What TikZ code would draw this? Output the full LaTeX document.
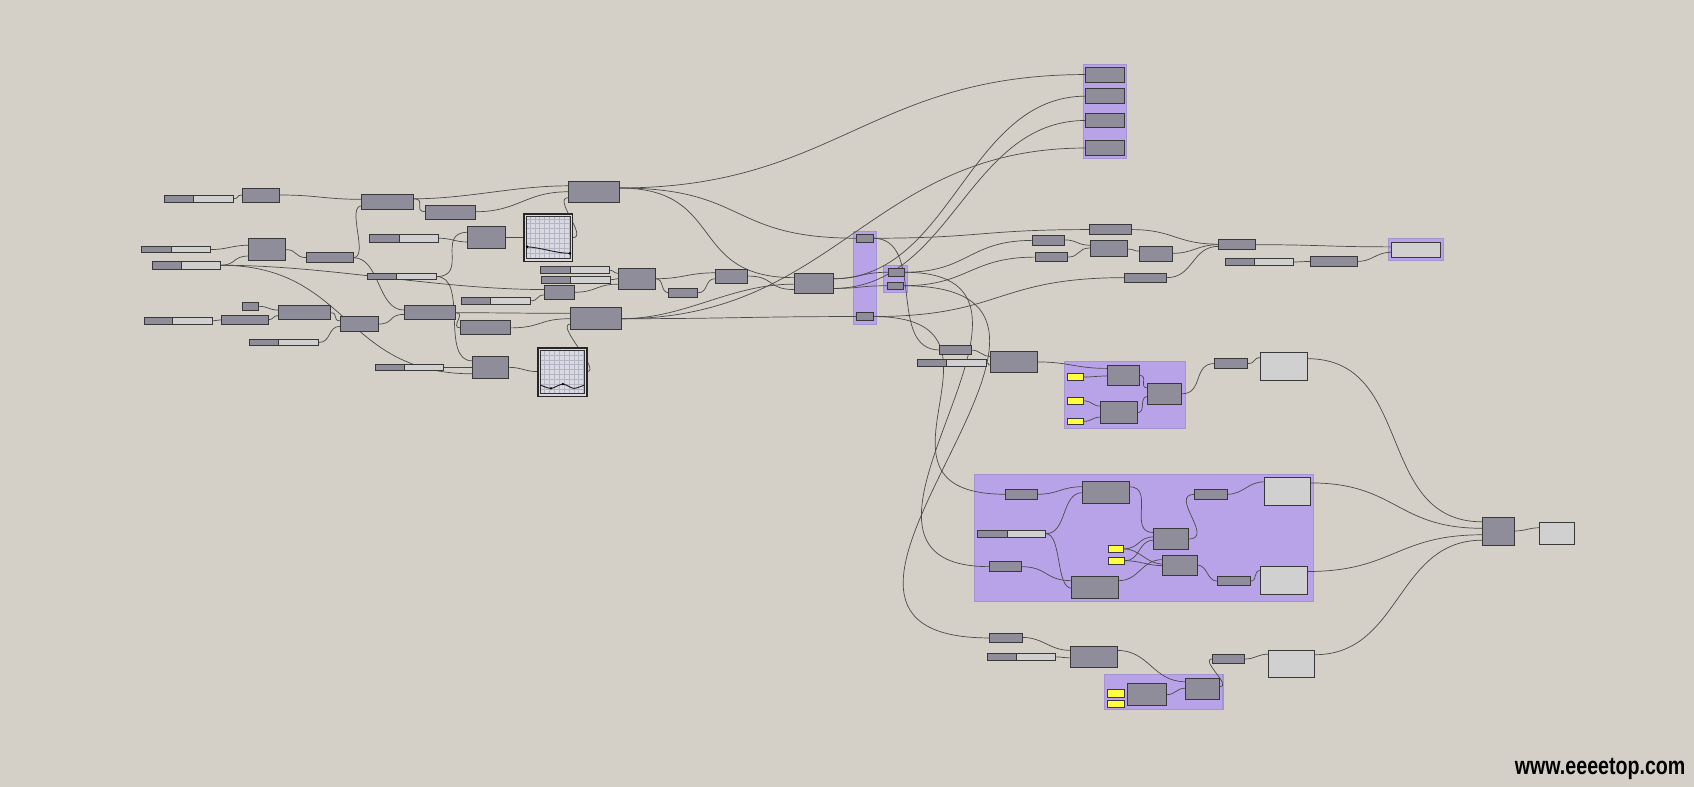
\documentclass[tikz,border=0pt]{standalone}
\usepackage{fontspec}
\usepackage{graphicx}
\newfontfamily\wmfont{Liberation Sans}
\usetikzlibrary{calc}
\definecolor{bgc}{HTML}{D4D0C8}
\definecolor{boxc}{HTML}{8E8D99}
\definecolor{edgec}{HTML}{383838}
\definecolor{lightc}{HTML}{D0D0D0}
\definecolor{grpc}{HTML}{B8A3E8}
\definecolor{grpe}{HTML}{A394CF}
\definecolor{yelc}{HTML}{FFFF40}
\definecolor{wirec}{HTML}{4A4A4A}
\definecolor{gridc}{HTML}{B4B4C4}
\definecolor{graphbg}{HTML}{D9D9E1}
\pgfdeclarelayer{grplayer}
\pgfdeclarelayer{wirelayer}
\pgfsetlayers{grplayer,wirelayer,main}
\tikzset{
 comp/.style={draw=edgec, fill=boxc, line width=0.8pt, inner sep=0pt, outer sep=0pt},
 panelbox/.style={draw=edgec, fill=lightc, line width=0.8pt, inner sep=0pt, outer sep=0pt},
 yelbox/.style={draw=edgec, fill=yelc, line width=0.6pt, inner sep=0pt, outer sep=0pt},
 slidernode/.style={draw=edgec, fill=lightc, line width=0.7pt, inner sep=0pt, outer sep=0pt},
 grpbox/.style={draw=grpe, fill=grpc, line width=1pt, inner sep=0pt, outer sep=0pt},
 graphbox/.style={draw=black!85, fill=graphbg, line width=1.6pt, inner sep=0pt, outer sep=0pt},
 wire/.style={draw=wirec, line width=0.65pt},
 wmtext/.style={anchor=base west, inner sep=0pt, font=\wmfont\bfseries\fontsize{23}{23}\selectfont},
}
\newcommand\bx[6][comp]{\node[#1, anchor=north west, minimum width={(#5-#3)*1pt}, minimum height={(#6-#4)*1pt}] (#2) at (#3,#4) {};}
\newcommand\sld[6]{\bx[slidernode]{#1}{#2}{#3}{#4}{#5}%
 \fill[boxc] (#2,#3) rectangle (#6,#5);
 \draw[edgec,line width=0.7pt] (#2,#3) rectangle (#4,#5);
 \draw[edgec,line width=0.7pt] (#6,#3) -- (#6,#5);}
\newcommand\graphnode[5]{\node[graphbox, anchor=north west, minimum width={(#4-#2)*1pt}, minimum height={(#5-#3)*1pt}] (#1) at (#2,#3) {};
 \draw[gridc, line width=0.3pt, step=4.5pt] ($(#1.south west)+(3,-3)$) grid ($(#1.north east)+(-3,3)$);
 \draw[black!80, line width=0.6pt] ($(#1.north west)+(2.5,2.5)$) rectangle ($(#1.south east)+(-2.5,-2.5)$);}
\newcommand\wirelink[5]{\draw[wire] (#1.east |- 0,#2) .. controls +(#5,0) and +(-#5,0) .. (#3.west |- 0,#4);}
\begin{document}
\begin{tikzpicture}[x=1pt,y=-1pt]
\useasboundingbox (0,0) rectangle (1568,728);
\begin{pgfonlayer}{grplayer}
\fill[bgc] (0,0) rectangle (1568,728);
\bx[grpbox]{gU}{790}{214}{811}{300}
\bx[grpbox]{gV}{818}{246}{840}{271}
\bx[grpbox]{gW}{1003}{60}{1043}{147}
\bx[grpbox]{gAF}{1285}{221}{1336}{241}
\bx[grpbox]{gAH}{985}{335}{1097}{397}
\bx[grpbox]{gAN}{902}{439}{1216}{557}
\bx[grpbox]{gBC}{1022}{624}{1132}{657}
\end{pgfonlayer}
% left cluster
\sld{s1}{152}{181}{216}{187}{179}
\sld{s2}{131}{228}{195}{234}{159}
\sld{s3}{141}{242}{204}{249}{168}
\sld{s4}{342}{217}{406}{224}{370}
\sld{s5}{340}{253}{404}{259}{367}
\sld{s6}{134}{294}{197}{300}{160}
\sld{s7}{231}{314}{295}{320}{258}
\sld{s8}{427}{275}{491}{282}{454}
\sld{s9}{500}{247}{564}{253}{528}
\sld{s10}{501}{256}{565}{262}{528}
\sld{s11}{347}{337}{410}{343}{374}
\bx{A}{224}{174}{259}{187}
\bx{B}{335}{180}{383}{194}
\bx{C}{394}{190}{440}{203}
\bx{D}{526}{168}{573}{187}
\bx{E}{230}{221}{264}{241}
\bx{F}{284}{234}{327}{243}
\bx{G}{433}{210}{468}{230}
\bx{H}{224}{280}{239}{287}
\bx{I}{258}{283}{306}{296}
\bx{J}{205}{292}{248}{300}
\bx{K}{315}{293}{350}{307}
\bx{L}{374}{283}{422}{296}
\bx{M}{426}{297}{472}{310}
\bx{N}{504}{264}{532}{277}
\bx{O}{528}{285}{575}{305}
\bx{P}{437}{330}{471}{350}
\graphnode{G1}{485}{198}{530}{242}
\graphnode{G2}{498}{322}{543}{367}
\draw[black!85, line width=0.9pt] (488,228.5) .. controls (500,229) and (515,234.5) .. (527.5,234.5);
\fill[black] (488,228.5) circle[radius=1.3pt] (527.5,234.5) circle[radius=1.3pt];
\draw[black!85, line width=0.9pt] plot[smooth] coordinates {(500.5,356.5) (510,359.5) (521,355.5) (531,359.5) (540.5,356.5)};
\fill[black] (510,359.5) circle[radius=1.2pt] (521,355.5) circle[radius=1.2pt];
% middle
\bx{Q}{572}{248}{607}{268}
\bx{R}{619}{267}{646}{275}
\bx{S}{662}{249}{692}{262}
\bx{T}{735}{253}{771}{272}
\bx{U1}{793}{217}{808}{224}
\bx{U3}{793}{289}{808}{297}
\bx{V1}{822}{248}{837}{256}
\bx{V2}{821}{261}{836}{268}
% upper right
\bx{W1}{1005}{62}{1041}{76}
\bx{W2}{1005}{82}{1041}{96}
\bx{W3}{1005}{105}{1041}{118}
\bx{W4}{1005}{130}{1041}{144}
\bx{X}{1008}{208}{1047}{217}
\bx{Y}{956}{218}{985}{227}
\bx{Z}{958}{234}{988}{242}
\bx{AA}{1009}{223}{1044}{237}
\bx{AB}{1055}{228}{1085}{242}
\bx{AC}{1041}{253}{1080}{261}
\bx{AD}{1128}{222}{1162}{231}
\sld{s12}{1134}{239}{1197}{246}{1161}
\bx{AE}{1213}{237}{1256}{247}
\bx[panelbox]{AFi}{1288}{224}{1333}{238}
% mid right
\bx{BX}{870}{320}{899}{328}
\sld{s13}{849}{333}{913}{339}{876}
\bx{AG}{917}{325}{960}{345}
\bx[yelbox]{Y1}{988}{346}{1003}{352}
\bx[yelbox]{Y2}{988}{368}{1003}{374}
\bx[yelbox]{Y3}{988}{387}{1003}{393}
\bx{AI}{1025}{338}{1055}{357}
\bx{AJ}{1019}{372}{1053}{392}
\bx{AK}{1062}{355}{1094}{374}
\bx{AL}{1124}{332}{1155}{341}
\bx[panelbox]{AM}{1167}{326}{1210}{352}
% big group
\bx{AO}{931}{453}{960}{462}
\bx{AP}{1002}{446}{1045}{466}
\sld{s14}{905}{491}{968}{497}{932}
\bx{AQ}{916}{520}{945}{529}
\bx{AR}{992}{534}{1035}{554}
\bx[yelbox]{Y4}{1026}{505}{1040}{511}
\bx[yelbox]{Y5}{1026}{516}{1041}{522}
\bx{AS}{1068}{489}{1100}{509}
\bx{AT}{1076}{514}{1108}{533}
\bx{AU}{1106}{453}{1136}{462}
\bx[panelbox]{AV}{1170}{442}{1213}{468}
\bx{AW}{1127}{534}{1157}{542}
\bx[panelbox]{AX}{1167}{524}{1210}{550}
\bx{AY}{1372}{479}{1402}{505}
\bx[panelbox]{AZ}{1425}{484}{1457}{504}
% bottom
\bx{BA}{916}{586}{946}{595}
\sld{s15}{914}{605}{977}{611}{941}
\bx{BB}{991}{598}{1034}{618}
\bx[yelbox]{Y6}{1025}{638}{1041}{645}
\bx[yelbox]{Y7}{1025}{648}{1041}{655}
\bx{BD}{1044}{633}{1080}{653}
\bx{BE}{1097}{628}{1129}{647}
\bx{BF}{1122}{606}{1152}{614}
\bx[panelbox]{BG}{1174}{602}{1217}{627}
% wires
\begin{pgfonlayer}{wirelayer}
\wirelink{s1}{184}{A}{180.5}{6}
\wirelink{A}{180.5}{B}{184.5}{35}
\wirelink{B}{184}{D}{172}{50}
\wirelink{B}{184}{C}{196}{12}
\wirelink{C}{196}{D}{177.5}{40}
\wirelink{G1}{220}{D}{183}{15}
\wirelink{F}{238.5}{B}{190.5}{15}
\wirelink{E}{231}{F}{238.5}{12}
\wirelink{s2}{231}{E}{227}{15}
\wirelink{s3}{245.5}{E}{237}{15}
\wirelink{s3}{245.5}{N}{268}{100}
\wirelink{s3}{245.5}{P}{346}{120}
\wirelink{s4}{220.5}{G}{224}{12}
\wirelink{s5}{256}{G}{215}{30}
\wirelink{s5}{256}{P}{334}{30}
\wirelink{G}{220}{G1}{220}{8}
\wirelink{H}{283.5}{I}{287}{10}
\wirelink{s6}{297}{J}{296}{4}
\wirelink{J}{296}{I}{292}{6}
\wirelink{I}{289.5}{K}{297}{8}
\wirelink{s7}{317}{K}{302}{12}
\wirelink{K}{300}{L}{291}{15}
\wirelink{F}{238.5}{L}{287}{25}
\wirelink{L}{289.5}{O}{290}{50}
\wirelink{L}{289.5}{M}{303.5}{10}
\wirelink{M}{303.5}{O}{295}{30}
\wirelink{G2}{344}{O}{300}{15}
\wirelink{s11}{340}{P}{340}{12}
\wirelink{P}{340}{G2}{344}{12}
\wirelink{s8}{278.5}{N}{273}{8}
\wirelink{N}{270.5}{Q}{263}{20}
\wirelink{s9}{250}{Q}{253}{4}
\wirelink{s10}{259}{Q}{258}{4}
\wirelink{Q}{258}{S}{252.5}{25}
\wirelink{Q}{258}{R}{271}{8}
\wirelink{R}{271}{S}{258}{10}
\wirelink{S}{255.5}{T}{268}{25}
\wirelink{D}{174}{T}{257}{100}
\wirelink{D}{174}{U1}{220.5}{120}
\wirelink{D}{174}{W1}{69}{200}
\wirelink{O}{295}{U3}{293}{100}
\wirelink{O}{295}{W4}{137}{200}
\wirelink{O}{295}{T}{263}{60}
\wirelink{T}{258}{V1}{252}{25}
\wirelink{T}{267}{V2}{264.5}{25}
\wirelink{T}{258}{W2}{89}{110}
\wirelink{T}{267}{W3}{111.5}{110}
\wirelink{U1}{220.5}{X}{212.5}{100}
\wirelink{U1}{220.5}{BX}{324}{50}
\wirelink{V1}{252}{Y}{222.5}{60}
\wirelink{V2}{264.5}{Z}{238}{60}
\wirelink{U3}{293}{AC}{257}{120}
\wirelink{U3}{293}{AO}{457.5}{150}
\wirelink{V1}{252}{AQ}{524.5}{180}
\wirelink{V2}{264.5}{BA}{590.5}{240}
\wirelink{BX}{324}{AG}{330}{8}
\wirelink{s13}{336}{AG}{338}{4}
\wirelink{AG}{335}{AI}{341}{30}
\wirelink{Y1}{349}{AI}{348}{8}
\wirelink{Y2}{371}{AJ}{376}{8}
\wirelink{Y3}{390}{AJ}{386}{8}
\wirelink{AI}{347.5}{AK}{359}{8}
\wirelink{AJ}{382}{AK}{367}{8}
\wirelink{AK}{364.5}{AL}{336.5}{20}
\wirelink{AL}{336.5}{AM}{331}{8}
\wirelink{AM}{332}{AY}{483}{100}
\wirelink{AV}{447}{AY}{489}{80}
\wirelink{AX}{529}{AY}{495}{80}
\wirelink{BG}{606}{AY}{500}{80}
\wirelink{AY}{491.5}{AZ}{488.5}{10}
\wirelink{AO}{457.5}{AP}{450.5}{20}
\wirelink{s14}{494}{AP}{456}{20}
\wirelink{s14}{494}{AR}{544.5}{15}
\wirelink{AQ}{524.5}{AR}{537.5}{25}
\wirelink{AP}{450.5}{AS}{493}{25}
\wirelink{Y4}{508}{AS}{497}{15}
\wirelink{Y4}{508}{AT}{522}{15}
\wirelink{Y5}{519}{AS}{500}{15}
\wirelink{Y5}{519}{AT}{523.5}{15}
\wirelink{AR}{537.5}{AT}{518}{20}
\wirelink{AS}{499}{AU}{457.5}{25}
\wirelink{AU}{457.5}{AV}{446}{15}
\wirelink{AT}{523}{AW}{538}{10}
\wirelink{AW}{538}{AX}{528}{8}
\wirelink{BA}{590}{BB}{602}{20}
\wirelink{s15}{608}{BB}{609}{5}
\wirelink{BB}{602}{BE}{631}{30}
\wirelink{BD}{643}{BE}{637}{8}
\wirelink{BE}{635.5}{BF}{610}{12}
\wirelink{BF}{610}{BG}{605.5}{10}
\wirelink{X}{212.5}{AD}{226}{40}
\wirelink{Y}{222}{AA}{227}{12}
\wirelink{Z}{238}{AA}{229.5}{12}
\wirelink{AA}{230.5}{AB}{232.5}{6}
\wirelink{AB}{234.5}{AD}{226.5}{20}
\wirelink{AC}{257}{AD}{228}{25}
\wirelink{AD}{226.5}{AFi}{228.5}{60}
\wirelink{s12}{242.5}{AE}{242}{6}
\wirelink{AE}{242}{AFi}{233.5}{15}
\end{pgfonlayer}
% watermark
\node[wmtext, text=black] (wm) at (1402,717) {\scalebox{0.79}[1]{www.eeeetop.com}};
\end{tikzpicture}
\end{document}
